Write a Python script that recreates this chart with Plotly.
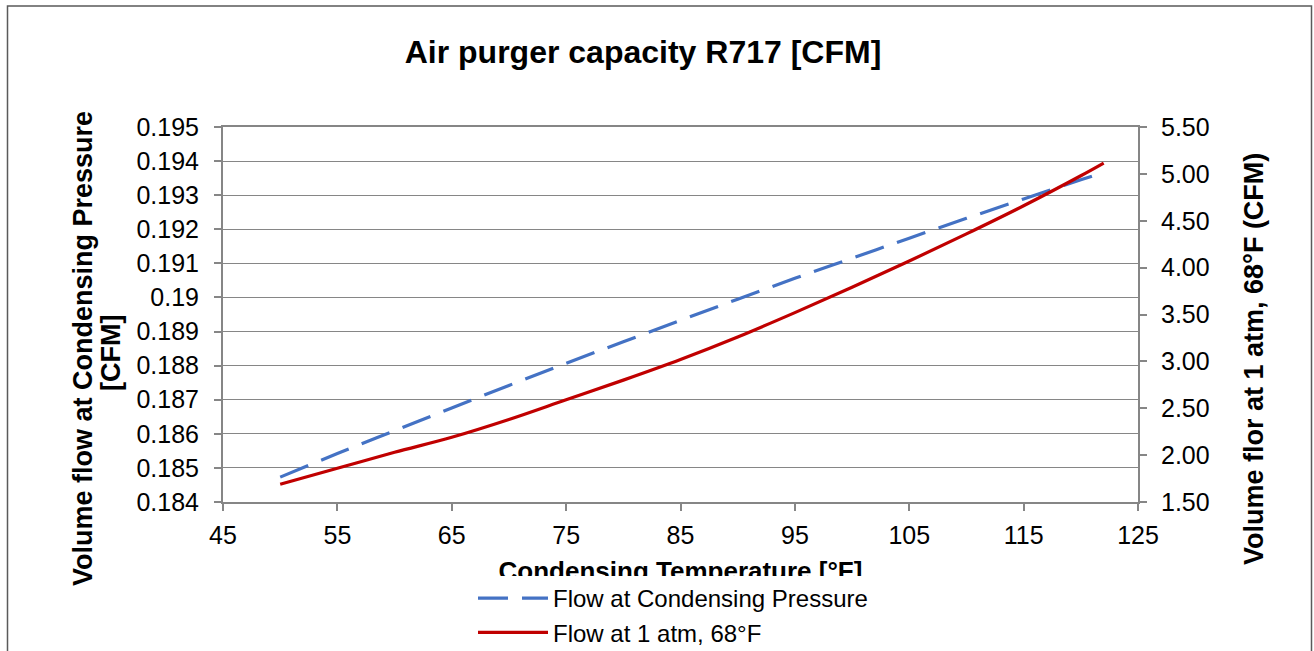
import plotly.graph_objects as go

# ---- data ----
temp_f = [50, 55, 60, 65, 70, 75, 80, 85, 90, 95, 100, 105, 110, 115, 120, 122]
flow_cond_cfm = [0.18473, 0.18542, 0.18609, 0.18676, 0.18742, 0.18807, 0.18870, 0.18933,
                 0.18995, 0.19056, 0.19115, 0.19174, 0.19232, 0.19289, 0.19345, 0.19367]
flow_atm_cfm = [1.69, 1.86, 2.03, 2.19, 2.38, 2.59, 2.80, 3.02,
                3.26, 3.52, 3.79, 4.07, 4.36, 4.66, 4.98, 5.115]

x_ticks = [45, 55, 65, 75, 85, 95, 105, 115, 125]
y_left_ticks = [0.184, 0.185, 0.186, 0.187, 0.188, 0.189, 0.190, 0.191, 0.192, 0.193, 0.194, 0.195]
y_left_labels = ["0.184", "0.185", "0.186", "0.187", "0.188", "0.189", "0.19",
                 "0.191", "0.192", "0.193", "0.194", "0.195"]
y_right_ticks = [1.5, 2.0, 2.5, 3.0, 3.5, 4.0, 4.5, 5.0, 5.5]
y_right_labels = ["1.50", "2.00", "2.50", "3.00", "3.50", "4.00", "4.50", "5.00", "5.50"]

series_names = ["Flow at Condensing Pressure", "Flow at 1 atm, 68°F"]
title_text = "Air purger capacity R717 [CFM]"
x_title = "Condensing Temperature [°F]"
y_left_title_1 = "Volume flow at Condensing Pressure"
y_left_title_2 = "[CFM]"
y_right_title = "Volume flor at 1 atm, 68°F (CFM)"

FONT = "Liberation Sans, Arial, sans-serif"
GRID = "#868686"
BLUE = "#4472C4"
RED = "#C00000"

fig = go.Figure()
fig.add_trace(go.Scatter(x=temp_f, y=flow_cond_cfm, name=series_names[0], mode="lines",
                         line=dict(color=BLUE, width=3.2, dash="30px,14px", shape="spline"),
                         yaxis="y"))
fig.add_trace(go.Scatter(x=temp_f, y=flow_atm_cfm, name=series_names[1], mode="lines",
                         line=dict(color=RED, width=3.2, shape="spline"),
                         yaxis="y2"))

# pixel helpers for paper coordinates
L, R, T, B = 223, 176, 127, 149
W, H = 1314, 651
pw, ph = W - L - R, H - T - B
def px(xp):
    return (xp - L) / pw
def py(yp):
    return (H - B - yp) / ph

TICKFONT = dict(size=25, family=FONT, color="black")

fig.update_layout(
    width=W, height=H,
    margin=dict(l=L, r=R, t=T, b=B, autoexpand=False),
    paper_bgcolor="white", plot_bgcolor="white",
    font=dict(family=FONT, color="black"),
    title=dict(text="<b>" + title_text + "</b>", font=dict(size=32, family=FONT, color="black"),
               x=643 / W, xref="container", xanchor="center",
               y=1 - 52 / H, yref="container", yanchor="middle"),
    xaxis=dict(range=[45, 125], tickvals=x_ticks, ticktext=[str(v) for v in x_ticks],
               showgrid=False, zeroline=False,
               showline=True, linecolor=GRID, linewidth=2, mirror=True,
               ticks="outside", ticklen=7, tickcolor=GRID, tickwidth=1.5,
               tickfont=TICKFONT, ticklabelstandoff=3),
    yaxis=dict(range=[0.184, 0.195], tickvals=y_left_ticks, ticktext=y_left_labels,
               showgrid=True, gridcolor=GRID, gridwidth=1.3, zeroline=False,
               showline=True, linecolor=GRID, linewidth=2,
               ticks="outside", ticklen=7, tickcolor=GRID, tickwidth=1.5,
               tickfont=TICKFONT, ticklabelstandoff=10),
    yaxis2=dict(range=[1.5, 5.5], tickvals=y_right_ticks, ticktext=y_right_labels,
                overlaying="y", side="right", showgrid=False, zeroline=False,
                showline=True, linecolor=GRID, linewidth=2,
                ticks="outside", ticklen=7, tickcolor=GRID, tickwidth=1.5,
                tickfont=TICKFONT, ticklabelstandoff=9),
    legend=dict(x=px(473), y=py(576), xanchor="left", yanchor="top",
                xref="paper", yref="paper",
                bgcolor="white", borderwidth=0,
                font=dict(size=24, family=FONT, color="black"),
                itemwidth=70, tracegroupgap=0),
    showlegend=True,
)

# outer chart frame
fig.add_shape(type="rect", xref="paper", yref="paper",
              x0=px(7.5), x1=px(1311.5), y0=py(700), y1=py(6),
              line=dict(color="#5a5a5a", width=1.5), fillcolor="rgba(0,0,0,0)", layer="below")

# x-axis title drawn as shape label so the legend can overlap it (as in the reference)
fig.add_shape(type="rect", xref="paper", yref="paper",
              x0=0.2, x1=0.8, y0=py(584), y1=py(554),
              line=dict(width=0), fillcolor="rgba(0,0,0,0)",
              label=dict(text="<b>" + x_title + "</b>", textposition="middle center",
                         font=dict(size=26, family=FONT, color="black")))

fig.add_annotation(text="<b>" + y_left_title_1 + "</b>", xref="paper", yref="paper",
                   x=px(83), y=py(349), xanchor="center", yanchor="middle",
                   textangle=-90, showarrow=False,
                   font=dict(size=27, family=FONT, color="black"))
fig.add_annotation(text="<b>" + y_left_title_2 + "</b>", xref="paper", yref="paper",
                   x=px(111), y=py(353), xanchor="center", yanchor="middle",
                   textangle=-90, showarrow=False,
                   font=dict(size=27, family=FONT, color="black"))
fig.add_annotation(text="<b>" + y_right_title + "</b>", xref="paper", yref="paper",
                   x=px(1254), y=py(359), xanchor="center", yanchor="middle",
                   textangle=-90, showarrow=False,
                   font=dict(size=27, family=FONT, color="black"))

fig.write_html("out.html", config={"displayModeBar": False},
               post_script="document.body.style.margin='0px';")
